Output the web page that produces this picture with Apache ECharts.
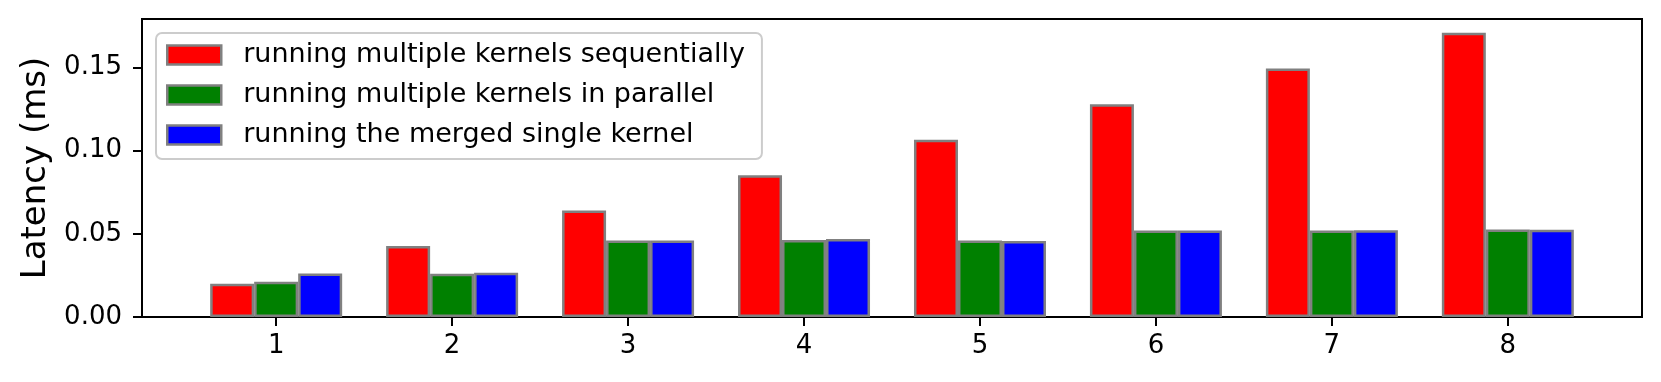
<!DOCTYPE html>
<html>
<head>
<meta charset="utf-8">
<script src="https://cdn.jsdelivr.net/npm/echarts@6/dist/echarts.min.js"></script>
<style>
  html, body { margin: 0; padding: 0; background: #fff; }
  #chart { width: 1661px; height: 382px; }
</style>
</head>
<body>
<div id="chart"></div>
<script>
const categories = [1, 2, 3, 4, 5, 6, 7, 8];
const seriesNames = [
  'running multiple kernels sequentially',
  'running multiple kernels in parallel',
  'running the merged single kernel'
];
const sequential = [0.0200, 0.0427, 0.0639, 0.0851, 0.1064, 0.1278, 0.1492, 0.1707];
const parallel   = [0.0212, 0.0260, 0.0460, 0.0463, 0.0460, 0.0520, 0.0520, 0.0525];
const merged     = [0.0262, 0.0266, 0.0460, 0.0469, 0.0457, 0.0520, 0.0521, 0.0524];
const yTicks = [0, 0.05, 0.10, 0.15];
const colors = ['#ff0000', '#008000', '#0000ff'];

const FONT = 'DejaVu Sans';
const chart = echarts.init(document.getElementById('chart'));

function toPairs(vals) { return categories.map((c, i) => [c, vals[i]]); }

const allData = [sequential, parallel, merged];
const series = allData.map((vals, k) => ({
  name: seriesNames[k],
  type: 'bar',
  data: toPairs(vals),
  barWidth: 44,
  barGap: '0%',
  itemStyle: { color: colors[k], borderColor: '#808080', borderWidth: 2.5 },
  emphasis: { disabled: true },
  animation: false
}));

chart.setOption({
  animation: false,
  grid: {
    left: 142, top: 19, right: 19, bottom: 65,
    show: true, borderColor: '#000', borderWidth: 2, backgroundColor: 'transparent'
  },
  legend: {
    orient: 'vertical',
    left: 156, top: 33,
    padding: [7, 17, 9, 10],
    itemWidth: 54, itemHeight: 19,
    itemGap: 10,
    backgroundColor: 'rgba(255,255,255,0.8)',
    borderColor: '#cccccc', borderWidth: 2, borderRadius: 6,
    icon: 'rect',
    itemStyle: { borderColor: '#808080', borderWidth: 2.5 },
    textStyle: { fontFamily: FONT, fontSize: 27, color: '#000', lineHeight: 30, padding: [0, 0, 0, 17] },
    data: seriesNames
  },
  xAxis: {
    type: 'value',
    min: 0.2375, max: 8.7625,
    axisLine: { show: true, lineStyle: { color: '#000', width: 2 } },
    axisTick: { show: true, length: 9, lineStyle: { color: '#000', width: 2 }, customValues: categories },
    axisLabel: { fontFamily: FONT, fontSize: 26, color: '#000', margin: 16, customValues: categories,
                 formatter: v => String(v) },
    splitLine: { show: false }
  },
  yAxis: {
    type: 'value',
    min: 0, max: 0.179, interval: 0.05,
    name: 'Latency (ms)',
    nameLocation: 'middle',
    nameGap: 87,
    nameTextStyle: { fontFamily: FONT, fontSize: 34, color: '#000' },
    axisLine: { show: true, lineStyle: { color: '#000', width: 2 } },
    axisTick: { show: true, length: 9, lineStyle: { color: '#000', width: 2 }, customValues: yTicks },
    axisLabel: { fontFamily: FONT, fontSize: 26, color: '#000', margin: 20, customValues: yTicks,
                 formatter: v => v.toFixed(2) },
    splitLine: { show: false }
  },
  series: series
});
</script>
</body>
</html>
